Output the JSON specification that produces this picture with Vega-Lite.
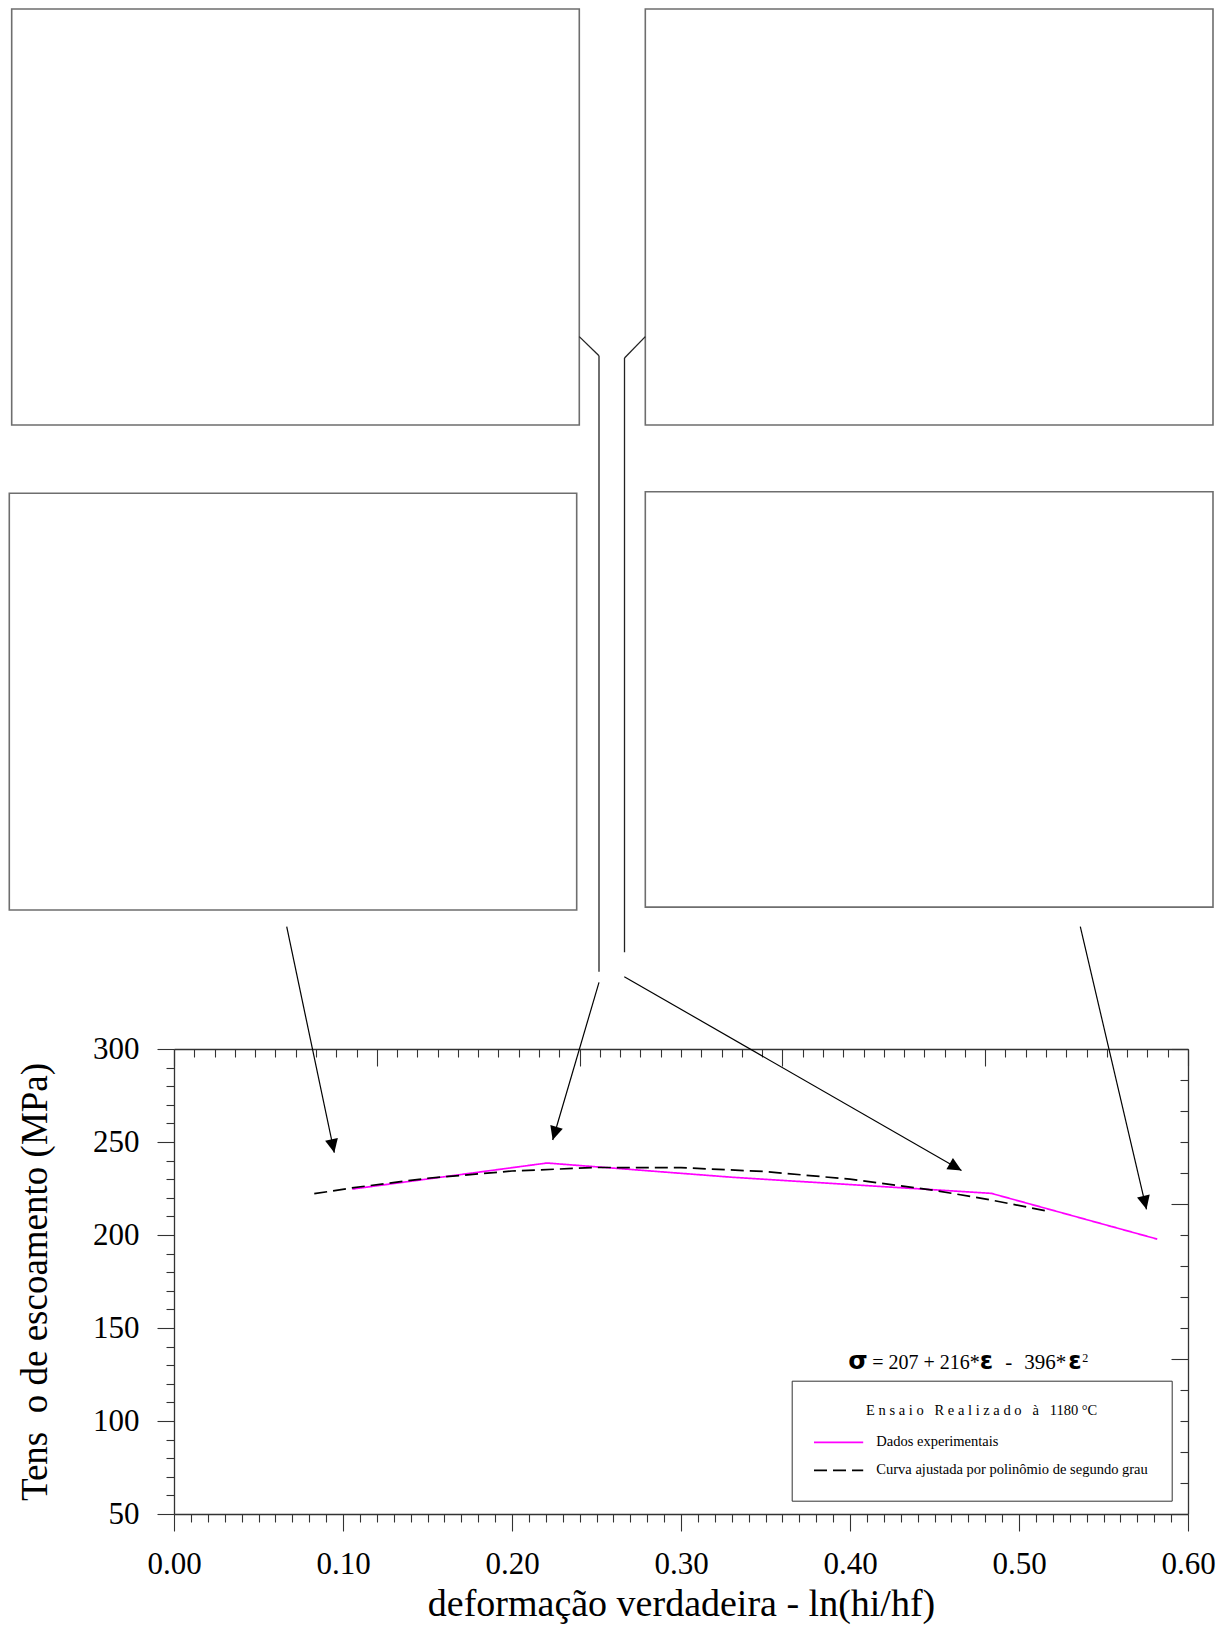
{
  "$schema": "https://vega.github.io/schema/vega-lite/v6.json",
  "width": 1014,
  "height": 465,
  "autosize": {"type": "none"},
  "padding": {"left": 174, "top": 1049, "right": 36, "bottom": 112},
  "background": "white",
  "config": {
    "view": {"stroke": null},
    "font": "Liberation Serif",
    "axis": {
      "grid": false,
      "domainColor": "#333333",
      "domainWidth": 1.3,
      "tickColor": "#333333",
      "tickWidth": 1.1,
      "labelColor": "black",
      "titleColor": "black",
      "labelFont": "Liberation Serif",
      "titleFont": "Liberation Serif",
      "titleFontWeight": "normal",
      "labelFlush": false,
      "labelOverlap": false,
      "labelBound": false
    }
  },
  "datasets": {
    "curvas": [
      {"e": 0.1055, "s": 224.7, "serie": "Dados experimentais"},
      {"e": 0.2207, "s": 238.7, "serie": "Dados experimentais"},
      {"e": 0.3309, "s": 231.0, "serie": "Dados experimentais"},
      {"e": 0.4836, "s": 222.4, "serie": "Dados experimentais"},
      {"e": 0.5818, "s": 197.8, "serie": "Dados experimentais"},
      {"e": 0.083, "s": 222.2, "serie": "Curva ajustada por polinômio de segundo grau"},
      {"e": 0.105, "s": 225.3, "serie": "Curva ajustada por polinômio de segundo grau"},
      {"e": 0.15, "s": 230.5, "serie": "Curva ajustada por polinômio de segundo grau"},
      {"e": 0.2, "s": 234.4, "serie": "Curva ajustada por polinômio de segundo grau"},
      {"e": 0.25, "s": 236.3, "serie": "Curva ajustada por polinômio de segundo grau"},
      {"e": 0.3, "s": 236.2, "serie": "Curva ajustada por polinômio de segundo grau"},
      {"e": 0.35, "s": 234.1, "serie": "Curva ajustada por polinômio de segundo grau"},
      {"e": 0.4, "s": 230.0, "serie": "Curva ajustada por polinômio de segundo grau"},
      {"e": 0.45, "s": 224.0, "serie": "Curva ajustada por polinômio de segundo grau"},
      {"e": 0.483, "s": 218.9, "serie": "Curva ajustada por polinômio de segundo grau"},
      {"e": 0.516, "s": 213.0, "serie": "Curva ajustada por polinômio de segundo grau"}
    ],
    "quadros": [
      {"x": -0.09604, "x2": 0.23982, "y": 859.14, "y2": 635.48},
      {"x": 0.27888, "x2": 0.61479, "y": 859.14, "y2": 635.48},
      {"x": -0.09746, "x2": 0.23828, "y": 598.76, "y2": 374.73},
      {"x": 0.27888, "x2": 0.61479, "y": 599.62, "y2": 376.29}
    ],
    "ligacoes": [
      {"x": 0.23982, "y": 683.01, "x2": 0.25148, "y2": 672.69},
      {"x": 0.25148, "y": 672.69, "x2": 0.25148, "y2": 341.56},
      {"x": 0.27888, "y": 683.01, "x2": 0.26657, "y2": 671.51},
      {"x": 0.26657, "y": 671.51, "x2": 0.26657, "y2": 351.99}
    ],
    "setas": [
      {"id": "a1", "x": 0.06669, "y": 365.75, "x2": 0.09485, "y2": 244.25},
      {"id": "a2", "x": 0.25148, "y": 335.86, "x2": 0.22408, "y2": 251.08},
      {"id": "a3", "x": 0.26645, "y": 338.87, "x2": 0.46598, "y2": 234.68},
      {"id": "a4", "x": 0.53627, "y": 365.75, "x2": 0.57544, "y2": 213.82}
    ],
    "equacao": [
      {"x": 0.399, "y": 127.8}
    ]
  },
  "resolve": {"axis": {"x": "independent", "y": "independent"}},
  "layer": [
    {
      "data": {"name": "curvas"},
      "mark": {"type": "line", "strokeWidth": 1.7},
      "encoding": {
        "x": {
          "field": "e", "type": "quantitative",
          "scale": {"domain": [0, 0.6], "nice": false, "zero": false},
          "axis": {
            "orient": "bottom",
            "values": [0, 0.1, 0.2, 0.3, 0.4, 0.5, 0.6],
            "format": ".2f",
            "tickSize": 17,
            "labelFont": "Liberation Serif",
            "labelFontSize": 31,
            "labelPadding": 18,
            "title": "deformação verdadeira - ln(hi/hf)",
            "titleFont": "Liberation Serif",
            "titleFontSize": 38,
            "titlePadding": 6
          }
        },
        "y": {
          "field": "s", "type": "quantitative",
          "scale": {"domain": [50, 300], "nice": false, "zero": false},
          "axis": {
            "orient": "left",
            "values": [50, 100, 150, 200, 250, 300],
            "tickSize": 17,
            "labelFont": "Liberation Serif",
            "labelFontSize": 31,
            "labelPadding": 18,
            "title": "Tens\u00a0\u00a0o de escoamento (MPa)",
            "titleFont": "Liberation Serif",
            "titleFontSize": 37,
            "titlePadding": 38
          }
        },
        "color": {
          "field": "serie", "type": "nominal",
          "title": "E n s a i o \u00a0 R e a l i z a d o \u00a0 à \u00a0 1180 °C",
          "scale": {
            "domain": ["Dados experimentais", "Curva ajustada por polinômio de segundo grau"],
            "range": ["#ff00ff", "#000000"]
          },
          "legend": {
            "orient": "none",
            "legendX": 617.7,
            "legendY": 331.7,
            "direction": "vertical",
            "padding": 23,
            "strokeColor": "#333333",
            "fillColor": "white",
            "titleFont": "Liberation Serif",
            "titleFontWeight": "normal",
            "titleFontSize": 14.5,
            "titleColor": "black",
            "titleAnchor": "middle",
            "titlePadding": 17,
            "titleLimit": 500,
            "labelFont": "Liberation Serif",
            "labelFontSize": 14.5,
            "labelColor": "black",
            "labelLimit": 500,
            "labelOffset": 30.5,
            "rowPadding": 13,
            "symbolType": "M-4.1,0H4.1",
            "symbolSize": 144,
            "symbolStrokeWidth": 1.8,
            "symbolOffset": 16.65
          }
        },
        "strokeDash": {
          "field": "serie", "type": "nominal",
          "title": "E n s a i o \u00a0 R e a l i z a d o \u00a0 à \u00a0 1180 °C",
          "scale": {
            "domain": ["Dados experimentais", "Curva ajustada por polinômio de segundo grau"],
            "range": [[1, 0], [13, 6]]
          }
        }
      }
    },
    {
      "data": {"name": "curvas"},
      "mark": {"type": "point", "opacity": 0},
      "encoding": {
        "x": {
          "field": "e", "type": "quantitative",
          "axis": {
            "orient": "bottom",
            "values": [0.01,0.02,0.03,0.04,0.05,0.06,0.07,0.08,0.09,0.11,0.12,0.13,0.14,0.15,0.16,0.17,0.18,0.19,0.21,0.22,0.23,0.24,0.25,0.26,0.27,0.28,0.29,0.31,0.32,0.33,0.34,0.35,0.36,0.37,0.38,0.39,0.41,0.42,0.43,0.44,0.45,0.46,0.47,0.48,0.49,0.51,0.52,0.53,0.54,0.55,0.56,0.57,0.58,0.59],
            "tickSize": 8,
            "labels": false,
            "domain": false,
            "title": null
          }
        },
        "y": {
          "field": "s", "type": "quantitative",
          "axis": {
            "orient": "left",
            "values": [60,70,80,90,110,120,130,140,160,170,180,190,210,220,230,240,260,270,280,290],
            "tickSize": 8,
            "labels": false,
            "domain": false,
            "title": null
          }
        }
      }
    },
    {
      "data": {"name": "curvas"},
      "mark": {"type": "point", "opacity": 0},
      "encoding": {
        "x": {
          "field": "e", "type": "quantitative",
          "axis": {
            "orient": "top",
            "values": [0, 0.12, 0.24, 0.36, 0.48, 0.6],
            "tickSize": -17,
            "labels": false,
            "domain": true,
            "title": null
          }
        },
        "y": {
          "field": "s", "type": "quantitative",
          "axis": {
            "orient": "right",
            "values": [50, 133.333, 216.667, 300],
            "tickSize": -17,
            "labels": false,
            "domain": true,
            "title": null
          }
        }
      }
    },
    {
      "data": {"name": "curvas"},
      "mark": {"type": "point", "opacity": 0},
      "encoding": {
        "x": {
          "field": "e", "type": "quantitative",
          "axis": {
            "orient": "top",
            "values": [0.012,0.024,0.036,0.048,0.06,0.072,0.084,0.096,0.108,0.132,0.144,0.156,0.168,0.18,0.192,0.204,0.216,0.228,0.252,0.264,0.276,0.288,0.3,0.312,0.324,0.336,0.348,0.372,0.384,0.396,0.408,0.42,0.432,0.444,0.456,0.468,0.492,0.504,0.516,0.528,0.54,0.552,0.564,0.576,0.588],
            "tickSize": -8,
            "labels": false,
            "domain": false,
            "title": null
          }
        },
        "y": {
          "field": "s", "type": "quantitative",
          "axis": {
            "orient": "right",
            "values": [66.667, 83.333, 100, 116.667, 150, 166.667, 183.333, 200, 233.333, 250, 266.667, 283.333],
            "tickSize": -8,
            "labels": false,
            "domain": false,
            "title": null
          }
        }
      }
    },
    {
      "data": {"name": "quadros"},
      "mark": {"type": "rect", "filled": false, "color": "#6e6e6e", "strokeWidth": 1.6},
      "encoding": {
        "x": {"field": "x", "type": "quantitative", "axis": null},
        "x2": {"field": "x2"},
        "y": {"field": "y", "type": "quantitative", "axis": null},
        "y2": {"field": "y2"}
      }
    },
    {
      "data": {"name": "ligacoes"},
      "mark": {"type": "rule", "color": "#222222", "strokeWidth": 1.3},
      "encoding": {
        "x": {"field": "x", "type": "quantitative", "axis": null},
        "x2": {"field": "x2"},
        "y": {"field": "y", "type": "quantitative", "axis": null},
        "y2": {"field": "y2"}
      }
    },
    {
      "data": {"name": "setas"},
      "mark": {"type": "rule", "color": "black", "strokeWidth": 1.2},
      "encoding": {
        "x": {"field": "x", "type": "quantitative", "axis": null},
        "x2": {"field": "x2"},
        "y": {"field": "y", "type": "quantitative", "axis": null},
        "y2": {"field": "y2"}
      }
    },
    {
      "data": {"name": "setas"},
      "transform": [{"filter": "datum.id == 'a1'"}],
      "mark": {"type": "point", "shape": "M0,0L-1,-2.1L1,-2.1Z", "filled": true, "color": "black", "opacity": 1, "size": 169, "angle": -11.9, "strokeWidth": 0},
      "encoding": {
        "x": {"field": "x2", "type": "quantitative", "axis": null},
        "y": {"field": "y2", "type": "quantitative", "axis": null}
      }
    },
    {
      "data": {"name": "setas"},
      "transform": [{"filter": "datum.id == 'a2'"}],
      "mark": {"type": "point", "shape": "M0,0L-1,-2.1L1,-2.1Z", "filled": true, "color": "black", "opacity": 1, "size": 169, "angle": 16.4, "strokeWidth": 0},
      "encoding": {
        "x": {"field": "x2", "type": "quantitative", "axis": null},
        "y": {"field": "y2", "type": "quantitative", "axis": null}
      }
    },
    {
      "data": {"name": "setas"},
      "transform": [{"filter": "datum.id == 'a3'"}],
      "mark": {"type": "point", "shape": "M0,0L-1,-2.1L1,-2.1Z", "filled": true, "color": "black", "opacity": 1, "size": 169, "angle": -60.1, "strokeWidth": 0},
      "encoding": {
        "x": {"field": "x2", "type": "quantitative", "axis": null},
        "y": {"field": "y2", "type": "quantitative", "axis": null}
      }
    },
    {
      "data": {"name": "setas"},
      "transform": [{"filter": "datum.id == 'a4'"}],
      "mark": {"type": "point", "shape": "M0,0L-1,-2.1L1,-2.1Z", "filled": true, "color": "black", "opacity": 1, "size": 169, "angle": -13.2, "strokeWidth": 0},
      "encoding": {
        "x": {"field": "x2", "type": "quantitative", "axis": null},
        "y": {"field": "y2", "type": "quantitative", "axis": null}
      }
    },
    {
      "data": {"name": "equacao"},
      "mark": {"type": "text", "text": "σ", "font": "DejaVu Sans", "fontWeight": "bold", "fontSize": 25, "align": "left", "baseline": "alphabetic", "color": "black", "dx": 0},
      "encoding": {
        "x": {"field": "x", "type": "quantitative", "axis": null},
        "y": {"field": "y", "type": "quantitative", "axis": null}
      }
    },
    {
      "data": {"name": "equacao"},
      "mark": {"type": "text", "text": "= 207 + 216*", "font": "Liberation Serif", "fontSize": 20, "align": "left", "baseline": "alphabetic", "color": "black", "dx": 24},
      "encoding": {
        "x": {"field": "x", "type": "quantitative", "axis": null},
        "y": {"field": "y", "type": "quantitative", "axis": null}
      }
    },
    {
      "data": {"name": "equacao"},
      "mark": {"type": "text", "text": "ε", "font": "DejaVu Sans", "fontWeight": "bold", "fontSize": 24, "align": "left", "baseline": "alphabetic", "color": "black", "dx": 131.5},
      "encoding": {
        "x": {"field": "x", "type": "quantitative", "axis": null},
        "y": {"field": "y", "type": "quantitative", "axis": null}
      }
    },
    {
      "data": {"name": "equacao"},
      "mark": {"type": "text", "text": "-", "font": "Liberation Serif", "fontSize": 21, "align": "left", "baseline": "alphabetic", "color": "black", "dx": 157},
      "encoding": {
        "x": {"field": "x", "type": "quantitative", "axis": null},
        "y": {"field": "y", "type": "quantitative", "axis": null}
      }
    },
    {
      "data": {"name": "equacao"},
      "mark": {"type": "text", "text": "396*", "font": "Liberation Serif", "fontSize": 21, "align": "left", "baseline": "alphabetic", "color": "black", "dx": 176},
      "encoding": {
        "x": {"field": "x", "type": "quantitative", "axis": null},
        "y": {"field": "y", "type": "quantitative", "axis": null}
      }
    },
    {
      "data": {"name": "equacao"},
      "mark": {"type": "text", "text": "ε", "font": "DejaVu Sans", "fontWeight": "bold", "fontSize": 24, "align": "left", "baseline": "alphabetic", "color": "black", "dx": 220},
      "encoding": {
        "x": {"field": "x", "type": "quantitative", "axis": null},
        "y": {"field": "y", "type": "quantitative", "axis": null}
      }
    },
    {
      "data": {"name": "equacao"},
      "mark": {"type": "text", "text": "2", "font": "Liberation Serif", "fontSize": 12, "align": "left", "baseline": "alphabetic", "color": "black", "dx": 234, "dy": -7.6},
      "encoding": {
        "x": {"field": "x", "type": "quantitative", "axis": null},
        "y": {"field": "y", "type": "quantitative", "axis": null}
      }
    }
  ]
}
